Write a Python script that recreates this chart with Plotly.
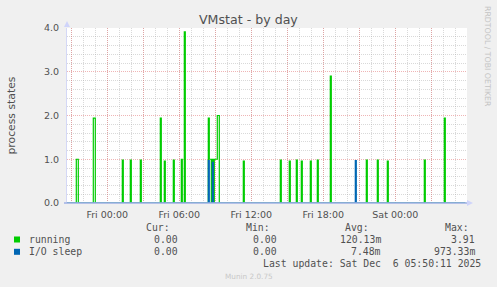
import plotly.graph_objects as go

# ---- data (5-minute samples, only spikes + the zero that follows) ----
running_times = [
    "2025-12-04 20:35", "2025-12-04 21:25", "2025-12-04 21:30", "2025-12-04 21:35",
    "2025-12-04 22:50", "2025-12-04 22:55", "2025-12-04 23:00",
    "2025-12-05 01:15", "2025-12-05 01:20", "2025-12-05 01:55", "2025-12-05 02:00",
    "2025-12-05 02:45", "2025-12-05 02:50", "2025-12-05 04:25", "2025-12-05 04:30",
    "2025-12-05 04:45", "2025-12-05 04:50", "2025-12-05 05:30", "2025-12-05 05:35",
    "2025-12-05 06:10", "2025-12-05 06:15", "2025-12-05 06:25", "2025-12-05 06:30",
    "2025-12-05 08:25", "2025-12-05 08:30", "2025-12-05 08:35", "2025-12-05 08:40",
    "2025-12-05 08:45", "2025-12-05 08:50", "2025-12-05 08:55", "2025-12-05 09:00",
    "2025-12-05 09:05", "2025-12-05 09:10", "2025-12-05 09:15", "2025-12-05 09:20",
    "2025-12-05 11:20", "2025-12-05 11:25", "2025-12-05 14:25", "2025-12-05 14:30",
    "2025-12-05 15:10", "2025-12-05 15:15", "2025-12-05 15:45", "2025-12-05 15:50",
    "2025-12-05 16:10", "2025-12-05 16:15", "2025-12-05 16:55", "2025-12-05 17:00",
    "2025-12-05 17:30", "2025-12-05 17:35", "2025-12-05 18:35", "2025-12-05 18:40",
    "2025-12-05 21:35", "2025-12-05 21:40", "2025-12-05 22:30", "2025-12-05 22:35",
    "2025-12-05 23:20", "2025-12-05 23:25", "2025-12-06 02:25", "2025-12-06 02:30",
    "2025-12-06 04:05", "2025-12-06 04:10", "2025-12-06 05:50",
]
running_values = [
    0, 1.0, 1.0, 0,
    1.94, 1.94, 0,
    0.98, 0, 0.98, 0,
    0.98, 0, 1.94, 0,
    0.96, 0, 0.98, 0,
    1.0, 0, 3.91, 0,
    1.94, 1.0, 1.0, 0,
    1.0, 0, 1.0, 1.0,
    1.0, 2.0, 2.0, 0,
    0.96, 0, 0.98, 0,
    0.96, 0, 0.98, 0,
    0.96, 0, 0.96, 0,
    0.98, 0, 2.90, 0,
    0.98, 0, 0.98, 0,
    0.96, 0, 0.98, 0,
    1.94, 0, 0,
]
io_times = [
    "2025-12-04 20:35", "2025-12-05 08:25", "2025-12-05 08:30",
    "2025-12-05 08:45", "2025-12-05 08:50", "2025-12-05 20:40",
    "2025-12-05 20:45", "2025-12-06 05:50",
]
io_values = [0, 0.97, 0, 0.93, 0, 0.97, 0, 0]

series_names = ["running", "I/O sleep"]
series_colors = ["#00CC00", "#0066B3"]
cur_vals = ["0.00", "0.00"]
min_vals = ["0.00", "0.00"]
avg_vals = ["120.13m", "7.48m"]
max_vals = ["3.91", "973.33m"]

x_tick_vals = ["2025-12-04 21:00", "2025-12-05 00:00", "2025-12-05 03:00",
               "2025-12-05 06:00", "2025-12-05 09:00", "2025-12-05 12:00",
               "2025-12-05 15:00", "2025-12-05 18:00", "2025-12-05 21:00",
               "2025-12-06 00:00", "2025-12-06 03:00"]
x_tick_text = ["", "Fri 00:00", "", "Fri 06:00", "", "Fri 12:00", "",
               "Fri 18:00", "", "Sat 00:00", ""]
x_range = ["2025-12-04 20:38:30", "2025-12-06 05:58:30"]
y_range = [0, 4]

# ---- layout geometry (pixels) ----
W, H = 497, 287
L, R, T, B = 67, 467, 28, 203


def px(x):
    return (x - L) / (R - L)


def py(y):
    return (B - y) / (B - T)


SANS = "DejaVu Sans"
MONO = "DejaVu Sans Mono"
TXT = "#505050"
MAJ = "rgba(225,120,120,0.55)"
MIN = "rgba(170,170,170,0.45)"

fig = go.Figure()
fig.add_trace(go.Scatter(x=running_times, y=running_values, mode="lines",
                         line=dict(color=series_colors[0], width=1.2, shape="hv"),
                         name=series_names[0], hoverinfo="skip"))
fig.add_trace(go.Scatter(x=io_times, y=io_values, mode="lines",
                         line=dict(color=series_colors[1], width=1.2, shape="hv"),
                         name=series_names[1], hoverinfo="skip"))

ann = []
# title
ann.append(dict(text="VMstat - by day", x=px(248.5), y=py(19.5), xref="paper", yref="paper",
                showarrow=False, font=dict(family=SANS, size=12.6, color=TXT),
                xanchor="center", yanchor="middle"))
# y axis title
ann.append(dict(text="process states", x=px(11), y=py(115.5), xref="paper", yref="paper",
                textangle=-90, showarrow=False, font=dict(family=SANS, size=10.8, color=TXT),
                xanchor="center", yanchor="middle"))
# watermark
ann.append(dict(text="RRDTOOL / TOBI OETIKER", x=px(487.5), y=py(4), xref="paper", yref="paper",
                textangle=90, showarrow=False, font=dict(family=SANS, size=7.8, color="#c4c4c4"),
                xanchor="center", yanchor="top"))
# legend header
for lab, xr in zip(["Cur:", "Min:", "Avg:", "Max:"], [172, 272, 370.5, 470.5]):
    ann.append(dict(text=lab, x=px(xr), y=py(227.8), xref="paper", yref="paper", showarrow=False,
                    font=dict(family=MONO, size=9.8, color=TXT), xanchor="right", yanchor="middle"))
rows_y = [239.5, 251.8]
for i in range(2):
    yy = rows_y[i]
    ann.append(dict(text=series_names[i], x=px(26.5), y=py(yy), xref="paper", yref="paper",
                    showarrow=False, font=dict(family=MONO, size=9.8, color=TXT),
                    xanchor="left", yanchor="middle"))
    for vals, xr in zip([cur_vals, min_vals, avg_vals, max_vals], [179.5, 278.5, 383, 477]):
        ann.append(dict(text=vals[i], x=px(xr), y=py(yy), xref="paper", yref="paper",
                        showarrow=False, font=dict(family=MONO, size=9.8, color=TXT),
                        xanchor="right", yanchor="middle"))
ann.append(dict(text="Last update: Sat Dec \u00a06 05:50:11 2025", x=px(482.5), y=py(263.8),
                xref="paper", yref="paper", showarrow=False,
                font=dict(family=MONO, size=9.8, color=TXT), xanchor="right", yanchor="middle"))
ann.append(dict(text="Munin 2.0.75", x=px(248.5), y=py(276), xref="paper", yref="paper",
                showarrow=False, font=dict(family=SANS, size=7.3, color="#c8c8c8"),
                xanchor="center", yanchor="middle"))

shapes = []
# legend colour boxes
for i in range(2):
    yy = rows_y[i]
    shapes.append(dict(type="rect", xref="paper", yref="paper",
                       x0=px(14), x1=px(20), y0=py(yy + 3), y1=py(yy - 3),
                       fillcolor=series_colors[i], line=dict(width=0)))
# baseline drawn over the traces, like rrdtool's axis
shapes.append(dict(type="line", xref="paper", yref="paper", x0=px(64), x1=px(468),
                   y0=py(203), y1=py(203), line=dict(color="#9fb0e6", width=1.5), layer="above"))
# axis arrows
shapes.append(dict(type="path", xref="paper", yref="paper",
                   path=f"M {px(64)} {py(27)} L {px(70)} {py(27)} L {px(67)} {py(21)} Z",
                   fillcolor="#cfd4fa", line=dict(width=0), layer="above"))
shapes.append(dict(type="path", xref="paper", yref="paper",
                   path=f"M {px(467)} {py(200)} L {px(467)} {py(206)} L {px(473)} {py(203)} Z",
                   fillcolor="#cfd4fa", line=dict(width=0), layer="above"))

fig.update_layout(
    width=W, height=H,
    margin=dict(l=L, r=W - R, t=T, b=H - B, pad=0),
    paper_bgcolor="#F0F0F0", plot_bgcolor="#FFFFFF",
    showlegend=False,
    annotations=ann, shapes=shapes,
    xaxis=dict(
        type="date", range=x_range, tickmode="array", tickvals=x_tick_vals, ticktext=x_tick_text,
        showgrid=True, gridcolor=MAJ, griddash="1px,1px", gridwidth=1,
        minor=dict(tickmode="linear", tick0="2025-12-05 00:00", dtick=3600000,
                   showgrid=True, gridcolor=MIN, griddash="1px,1px", gridwidth=1),
        ticks="outside", ticklen=3, tickcolor="rgba(0,0,0,0)",
        tickfont=dict(family=SANS, size=9.5, color=TXT),
        showline=False, zeroline=False, fixedrange=True,
    ),
    yaxis=dict(
        range=y_range, tickmode="linear", tick0=0, dtick=1, tickformat=".1f",
        showgrid=True, gridcolor=MAJ, griddash="1px,1px", gridwidth=1,
        minor=dict(tickmode="linear", tick0=0, dtick=0.2, showgrid=True,
                   gridcolor=MIN, griddash="1px,1px", gridwidth=1),
        ticks="outside", ticklen=5, tickcolor="rgba(0,0,0,0)",
        tickfont=dict(family=SANS, size=9.5, color=TXT),
        showline=True, linecolor="#d4d8f6", linewidth=1, zeroline=False, fixedrange=True,
    ),
)

fig.write_html("out.html", config=dict(displayModeBar=False))
